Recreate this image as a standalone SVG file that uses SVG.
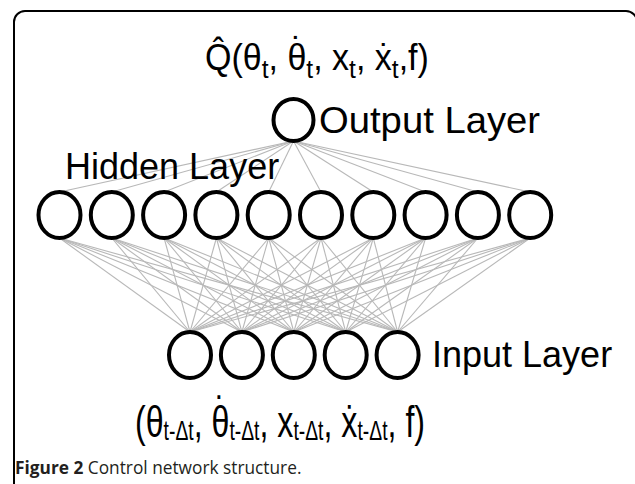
<svg xmlns="http://www.w3.org/2000/svg" width="635" height="484" viewBox="0 0 635 484">
<style>
.node{fill:none;stroke:#000;stroke-width:4}
.conn line{stroke:#b8b8b8;stroke-width:1.1}
.lbl{font-family:"Liberation Sans",Arial,sans-serif;fill:#000}
.l36{font-size:36px}
.cap{font-family:"Open Sans","Noto Sans",sans-serif;font-size:17.3px;fill:#231f20}
</style>
<rect width="635" height="484" fill="#fff"/>
<path d="M14 484 V22 A11 11 0 0 1 25 11 H626 A11 11 0 0 1 637 22 V484" fill="none" stroke="#000" stroke-width="2"/>
<g id="connectors" class="conn">
<line x1="293.5" y1="141" x2="59.5" y2="192"/>
<line x1="293.5" y1="141" x2="111.8" y2="192"/>
<line x1="293.5" y1="141" x2="164.1" y2="192"/>
<line x1="293.5" y1="141" x2="216.4" y2="192"/>
<line x1="293.5" y1="141" x2="268.7" y2="192"/>
<line x1="293.5" y1="141" x2="321" y2="192"/>
<line x1="293.5" y1="141" x2="373.3" y2="192"/>
<line x1="293.5" y1="141" x2="425.6" y2="192"/>
<line x1="293.5" y1="141" x2="477.9" y2="192"/>
<line x1="293.5" y1="141" x2="530.2" y2="192"/>
<line x1="59.5" y1="238" x2="190" y2="332"/><line x1="59.5" y1="238" x2="241.9" y2="332"/><line x1="59.5" y1="238" x2="293.8" y2="332"/><line x1="59.5" y1="238" x2="345.7" y2="332"/><line x1="59.5" y1="238" x2="397.6" y2="332"/>
<line x1="111.8" y1="238" x2="190" y2="332"/><line x1="111.8" y1="238" x2="241.9" y2="332"/><line x1="111.8" y1="238" x2="293.8" y2="332"/><line x1="111.8" y1="238" x2="345.7" y2="332"/><line x1="111.8" y1="238" x2="397.6" y2="332"/>
<line x1="164.1" y1="238" x2="190" y2="332"/><line x1="164.1" y1="238" x2="241.9" y2="332"/><line x1="164.1" y1="238" x2="293.8" y2="332"/><line x1="164.1" y1="238" x2="345.7" y2="332"/><line x1="164.1" y1="238" x2="397.6" y2="332"/>
<line x1="216.4" y1="238" x2="190" y2="332"/><line x1="216.4" y1="238" x2="241.9" y2="332"/><line x1="216.4" y1="238" x2="293.8" y2="332"/><line x1="216.4" y1="238" x2="345.7" y2="332"/><line x1="216.4" y1="238" x2="397.6" y2="332"/>
<line x1="268.7" y1="238" x2="190" y2="332"/><line x1="268.7" y1="238" x2="241.9" y2="332"/><line x1="268.7" y1="238" x2="293.8" y2="332"/><line x1="268.7" y1="238" x2="345.7" y2="332"/><line x1="268.7" y1="238" x2="397.6" y2="332"/>
<line x1="321" y1="238" x2="190" y2="332"/><line x1="321" y1="238" x2="241.9" y2="332"/><line x1="321" y1="238" x2="293.8" y2="332"/><line x1="321" y1="238" x2="345.7" y2="332"/><line x1="321" y1="238" x2="397.6" y2="332"/>
<line x1="373.3" y1="238" x2="190" y2="332"/><line x1="373.3" y1="238" x2="241.9" y2="332"/><line x1="373.3" y1="238" x2="293.8" y2="332"/><line x1="373.3" y1="238" x2="345.7" y2="332"/><line x1="373.3" y1="238" x2="397.6" y2="332"/>
<line x1="425.6" y1="238" x2="190" y2="332"/><line x1="425.6" y1="238" x2="241.9" y2="332"/><line x1="425.6" y1="238" x2="293.8" y2="332"/><line x1="425.6" y1="238" x2="345.7" y2="332"/><line x1="425.6" y1="238" x2="397.6" y2="332"/>
<line x1="477.9" y1="238" x2="190" y2="332"/><line x1="477.9" y1="238" x2="241.9" y2="332"/><line x1="477.9" y1="238" x2="293.8" y2="332"/><line x1="477.9" y1="238" x2="345.7" y2="332"/><line x1="477.9" y1="238" x2="397.6" y2="332"/>
<line x1="530.2" y1="238" x2="190" y2="332"/><line x1="530.2" y1="238" x2="241.9" y2="332"/><line x1="530.2" y1="238" x2="293.8" y2="332"/><line x1="530.2" y1="238" x2="345.7" y2="332"/><line x1="530.2" y1="238" x2="397.6" y2="332"/>
</g>
<g id="output">
<ellipse class="node" cx="293.5" cy="120" rx="20" ry="21"/>
<text class="lbl l36" x="319" y="133" textLength="221" lengthAdjust="spacingAndGlyphs">Output Layer</text>
</g>
<g id="hidden">
<text class="lbl l36" x="65" y="179">Hidden Layer</text>
<ellipse id="h1" class="node" cx="59.5" cy="215" rx="21" ry="23"/>
<ellipse id="h2" class="node" cx="111.8" cy="215" rx="21" ry="23"/>
<ellipse id="h3" class="node" cx="164.1" cy="215" rx="21" ry="23"/>
<ellipse id="h4" class="node" cx="216.4" cy="215" rx="21" ry="23"/>
<ellipse id="h5" class="node" cx="268.7" cy="215" rx="21" ry="23"/>
<ellipse id="h6" class="node" cx="321" cy="215" rx="21" ry="23"/>
<ellipse id="h7" class="node" cx="373.3" cy="215" rx="21" ry="23"/>
<ellipse id="h8" class="node" cx="425.6" cy="215" rx="21" ry="23"/>
<ellipse id="h9" class="node" cx="477.9" cy="215" rx="21" ry="23"/>
<ellipse id="h10" class="node" cx="530.2" cy="215" rx="21" ry="23"/>
</g>
<g id="input">
<ellipse id="i1" class="node" cx="190" cy="355" rx="21" ry="23"/>
<ellipse id="i2" class="node" cx="241.9" cy="355" rx="21" ry="23"/>
<ellipse id="i3" class="node" cx="293.8" cy="355" rx="21" ry="23"/>
<ellipse id="i4" class="node" cx="345.7" cy="355" rx="21" ry="23"/>
<ellipse id="i5" class="node" cx="397.6" cy="355" rx="21" ry="23"/>
<text class="lbl l36" x="432" y="367">Input Layer</text>
</g>
<g id="formula-top" transform="translate(205,0) scale(0.945,1)">
<text class="lbl" x="0" y="70" font-size="36">Q̂(θ<tspan font-size="26" dy="8">t</tspan><tspan dy="-8">, </tspan><tspan x="87.2">θ</tspan><tspan font-size="26" dy="8">t</tspan><tspan dy="-8">, x</tspan><tspan font-size="26" dy="8">t</tspan><tspan dy="-8">, ẋ</tspan><tspan font-size="26" dy="8">t</tspan><tspan dy="-8">,f)</tspan><tspan x="97.2" y="63" text-anchor="middle">˙</tspan></text>
</g>
<g id="formula-bottom" transform="translate(135,0) scale(0.715,1)">
<text class="lbl" x="0" y="437" font-size="45">(θ<tspan font-size="27" dy="3">t-Δt</tspan><tspan dy="-3">, </tspan><tspan x="107">θ</tspan><tspan font-size="27" dy="3">t-Δt</tspan><tspan dy="-3">, x</tspan><tspan font-size="27" dy="3">t-Δt</tspan><tspan dy="-3">, ẋ</tspan><tspan font-size="27" dy="3">t-Δt</tspan><tspan dy="-3">, f)</tspan><tspan x="119.5" y="428" text-anchor="middle">˙</tspan></text>
</g>
<g id="caption">
<text class="cap" x="15" y="474"><tspan font-weight="bold">Figure 2</tspan> Control network structure.</text>
</g>
</svg>
